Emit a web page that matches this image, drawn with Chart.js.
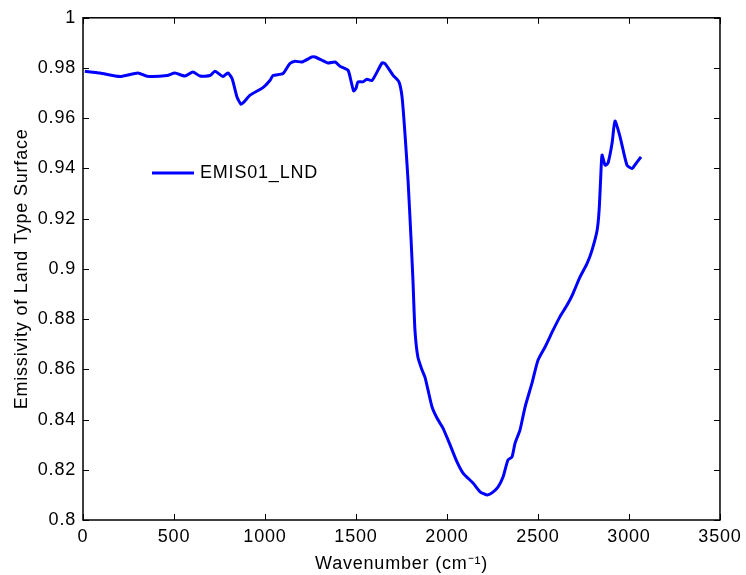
<!DOCTYPE html>
<html>
<head>
<meta charset="utf-8">
<script src="https://cdn.jsdelivr.net/npm/chart.js@4/dist/chart.umd.min.js"></script>
<style>
  html, body { margin: 0; padding: 0; background: #fff; }
  #wrap { width: 746px; height: 575px; }
</style>
</head>
<body>
<div id="wrap"><canvas id="emis_chart" width="746" height="575"></canvas></div>
<script>
// wavenumber (cm^-1) and emissivity
const wavenumber = [10, 93, 203, 302, 352, 462, 505, 560, 604, 643, 698, 725, 769, 796, 819, 846, 868, 885, 918, 989, 1027, 1044, 1099, 1137, 1165, 1203, 1258, 1275, 1313, 1346, 1385, 1412, 1456, 1472, 1487, 1500, 1511, 1538, 1560, 1588, 1643, 1659, 1704, 1736, 1753, 1769, 1786, 1802, 1813, 1824, 1840, 1863, 1879, 1896, 1918, 1945, 1978, 2017, 2055, 2088, 2143, 2182, 2220, 2247, 2280, 2308, 2335, 2357, 2374, 2401, 2429, 2467, 2500, 2539, 2583, 2621, 2660, 2693, 2731, 2770, 2797, 2825, 2836, 2844, 2852, 2869, 2885, 2907, 2923, 2951, 2989, 3017, 3039, 3066];
const emissivity = [0.9787, 0.978, 0.9766, 0.978, 0.9767, 0.977, 0.978, 0.9768, 0.9784, 0.9768, 0.977, 0.9787, 0.9766, 0.978, 0.9758, 0.9685, 0.9656, 0.9665, 0.9692, 0.9722, 0.975, 0.977, 0.9778, 0.9818, 0.9827, 0.9824, 0.9844, 0.9844, 0.9831, 0.982, 0.9824, 0.9807, 0.9791, 0.975, 0.9709, 0.9719, 0.9745, 0.9745, 0.9755, 0.975, 0.982, 0.9818, 0.9771, 0.9745, 0.9685, 0.954, 0.9353, 0.9126, 0.8955, 0.8756, 0.8649, 0.8597, 0.8569, 0.8517, 0.845, 0.8406, 0.8366, 0.8299, 0.8231, 0.8187, 0.8147, 0.8112, 0.81, 0.8108, 0.8131, 0.8171, 0.8239, 0.8251, 0.8306, 0.8358, 0.845, 0.8545, 0.8636, 0.8689, 0.8756, 0.881, 0.8856, 0.8903, 0.8968, 0.9022, 0.9075, 0.9154, 0.9234, 0.9353, 0.9453, 0.9413, 0.9422, 0.95, 0.9589, 0.9526, 0.9413, 0.94, 0.942, 0.9446];
const seriesLabel = 'EMIS01_LND';
const xTicks = [0, 500, 1000, 1500, 2000, 2500, 3000, 3500];
const yTicks = [0.8, 0.82, 0.84, 0.86, 0.88, 0.9, 0.92, 0.94, 0.96, 0.98, 1];

const FONT = 'Liberation Sans, Arial, Helvetica, sans-serif';
const FSIZE = 18;

// MATLAB-style box with inward ticks on all four sides, plus an unboxed legend
const boxPlugin = {
    id: 'matlabBox',
    beforeDraw(chart) {
        // the reference text is set a bit wider than Liberation Sans
        chart.ctx.letterSpacing = '0.8px';
    },
    afterDraw(chart) {
        const { ctx, chartArea: a, scales } = chart;
        const t = 6;
        ctx.save();
        ctx.strokeStyle = '#000';
        ctx.lineWidth = 1;
        ctx.beginPath();
        xTicks.forEach(v => {
            const px = Math.round(scales.x.getPixelForValue(v)) + 0.5;
            ctx.moveTo(px, a.bottom); ctx.lineTo(px, a.bottom - t);
            ctx.moveTo(px, a.top); ctx.lineTo(px, a.top + t);
        });
        yTicks.forEach(v => {
            const py = Math.round(scales.y.getPixelForValue(v)) + 0.5;
            ctx.moveTo(a.left, py); ctx.lineTo(a.left + t, py);
            ctx.moveTo(a.right, py); ctx.lineTo(a.right - t, py);
        });
        ctx.stroke();
        ctx.lineWidth = 1.5;
        ctx.strokeRect(a.left, a.top, a.right - a.left, a.bottom - a.top);

        // legend
        const ly = 173;
        ctx.strokeStyle = '#0000ff';
        ctx.lineWidth = 3;
        ctx.beginPath();
        ctx.moveTo(152, ly); ctx.lineTo(194, ly);
        ctx.stroke();
        ctx.fillStyle = '#000';
        ctx.font = FSIZE + 'px ' + FONT;
        ctx.textBaseline = 'middle';
        ctx.fillText(seriesLabel, 200, ly);
        ctx.restore();
    }
};

const points = wavenumber.map((w, i) => ({ x: w, y: emissivity[i] }));

new Chart(document.getElementById('emis_chart'), {
    type: 'line',
    data: {
        datasets: [{
            label: seriesLabel,
            data: points,
            borderColor: '#0000ff',
            borderWidth: 3,
            pointRadius: 0,
            tension: 0.2,
            fill: false
        }]
    },
    options: {
        responsive: false,
        animation: false,
        layout: { padding: { top: 17, right: 26, left: 0, bottom: 0 } },
        plugins: { legend: { display: false }, tooltip: { enabled: false } },
        scales: {
            x: {
                type: 'linear',
                min: 0, max: 3500,
                afterBuildTicks: s => { s.ticks = xTicks.map(v => ({ value: v })); },
                afterFit: s => { s.height = 55; },
                grid: { display: false, drawTicks: false },
                border: { display: false },
                ticks: {
                    color: '#000', font: { family: FONT, size: FSIZE }, padding: 6, maxRotation: 0,
                    callback: v => String(v)
                },
                title: { display: true, text: 'Wavenumber (cm\u207B\u00B9)', color: '#000', font: { family: FONT, size: FSIZE }, padding: 0 }
            },
            y: {
                min: 0.8, max: 1,
                afterBuildTicks: s => { s.ticks = yTicks.map(v => ({ value: v })); },
                afterFit: s => { s.width = 83; },
                grid: { display: false, drawTicks: false },
                border: { display: false },
                ticks: {
                    color: '#000', font: { family: FONT, size: FSIZE }, padding: 7,
                    callback: v => String(Math.round(v * 100) / 100)
                },
                title: { display: true, text: 'Emissivity of Land Type Surface', color: '#000', font: { family: FONT, size: FSIZE }, padding: { top: 11, bottom: 0 } }
            }
        }
    },
    plugins: [boxPlugin]
});
</script>
</body>
</html>
